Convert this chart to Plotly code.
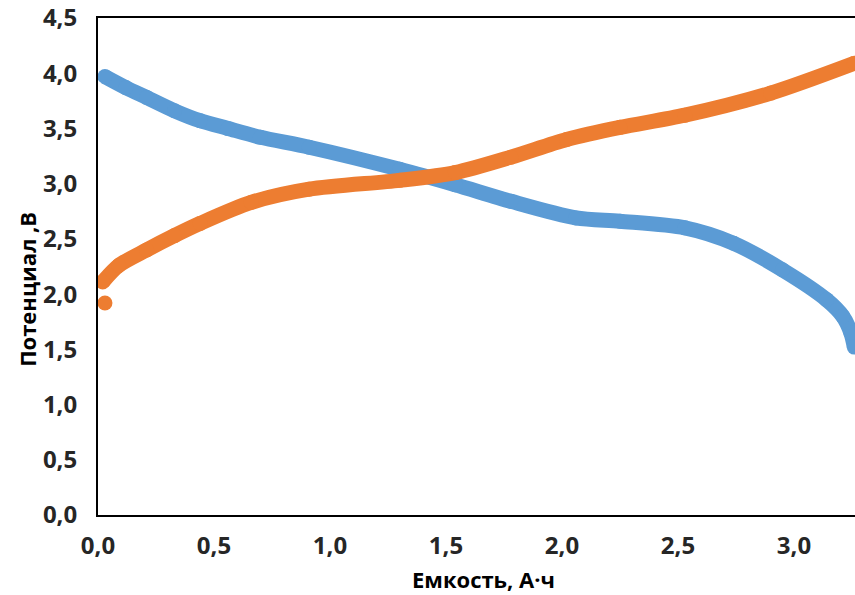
import plotly.graph_objects as go

# Discharge curve (blue)
discharge_capacity = [0.03, 0.12, 0.21, 0.33, 0.44, 0.56, 0.70, 0.91, 1.30, 1.54, 1.78, 2.06, 2.25, 2.53, 2.74, 2.95, 3.14, 3.21, 3.245, 3.26]
discharge_potential = [3.97, 3.87, 3.78, 3.66, 3.57, 3.50, 3.42, 3.33, 3.13, 2.99, 2.84, 2.69, 2.66, 2.60, 2.46, 2.22, 1.95, 1.80, 1.65, 1.52]

# Charge curve (orange); first point is an isolated dot
charge_capacity = [0.03, None, 0.02, 0.09, 0.21, 0.33, 0.44, 0.66, 0.91, 1.30, 1.54, 1.78, 2.02, 2.25, 2.53, 2.90, 3.26]
charge_potential = [1.92, None, 2.11, 2.26, 2.40, 2.53, 2.64, 2.83, 2.95, 3.03, 3.10, 3.24, 3.40, 3.51, 3.62, 3.82, 4.09]

y_ticks = [0, 0.5, 1.0, 1.5, 2.0, 2.5, 3.0, 3.5, 4.0, 4.5]
x_ticks = [0, 0.5, 1.0, 1.5, 2.0, 2.5, 3.0]

BLUE = "#5B9BD5"
ORANGE = "#ED7D31"
FONT = "Open Sans"

fig = go.Figure()
fig.add_trace(go.Scatter(
    x=discharge_capacity, y=discharge_potential, mode="lines+markers",
    line=dict(color=BLUE, width=15, shape="spline", smoothing=0.8),
    marker=dict(color=BLUE, size=15), showlegend=False, cliponaxis=True,
))
fig.add_trace(go.Scatter(
    x=charge_capacity, y=charge_potential, mode="lines+markers",
    line=dict(color=ORANGE, width=15, shape="spline", smoothing=0.8),
    marker=dict(color=ORANGE, size=15), connectgaps=False, showlegend=False, cliponaxis=True,
))

fig.update_layout(
    width=855, height=595,
    margin=dict(l=98, r=0, t=18, b=80),
    paper_bgcolor="white", plot_bgcolor="white",
    separators=", ",
    font=dict(family=FONT, size=24, color="#262626"),
    xaxis=dict(
        range=[0, 3.263], tickvals=x_ticks, tickformat=".1f",
        showline=True, linecolor="black", linewidth=2, mirror=True,
        showgrid=False, zeroline=False, ticks="",
        tickfont=dict(family=FONT, size=24, color="#262626", weight="bold"),
        ticklabelstandoff=8,
    ),
    yaxis=dict(
        range=[0, 4.5], tickvals=y_ticks, tickformat=".1f",
        showline=True, linecolor="black", linewidth=2, mirror=False,
        showgrid=False, zeroline=False, ticks="",
        tickfont=dict(family=FONT, size=24, color="#262626", weight="bold"),
        ticklabelstandoff=14,
    ),
    annotations=[
        dict(text="Емкость, А·ч", xref="paper", yref="paper", x=0.509, y=-0.128,
             xanchor="center", yanchor="middle", showarrow=False,
             font=dict(family=FONT, size=22, color="black", weight="bold")),
        dict(text="Потенциал ,В", xref="paper", yref="paper", x=-0.0938, y=0.455,
             xanchor="center", yanchor="middle", showarrow=False, textangle=-90,
             font=dict(family=FONT, size=22, color="black", weight="bold")),
    ],
)

fig.write_html("out.html")
